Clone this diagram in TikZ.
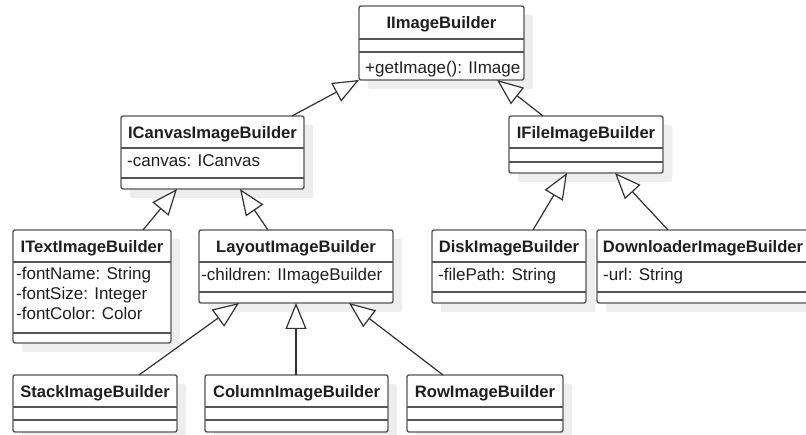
\documentclass[tikz,border=0pt]{standalone}
\usepackage{fontspec}
\setmainfont{Liberation Sans}
\usetikzlibrary{arrows.meta}
\definecolor{boxc}{RGB}{85,85,85}
\definecolor{linec}{RGB}{50,50,50}
\definecolor{shadc}{RGB}{238,238,238}
\tikzset{
  classbox/.style={draw=boxc, line width=1.4pt, rounded corners=2pt, fill=white, inner sep=0pt, outer sep=0pt, anchor=north west},
  sepline/.style={draw=boxc, line width=1.4pt},
  shadowbox/.style={fill=shadc, rounded corners=2pt},
  titletext/.style={font=\fontsize{16.6}{20}\selectfont\bfseries, anchor=base, inner sep=0pt, text=black!88},
  membertext/.style={font=\fontsize{17}{20}\selectfont, anchor=base west, inner sep=0pt, text=black!88},
  inherit/.style={draw=linec, line width=1.2pt, -{Triangle[length=26pt,width=21pt,fill=white,line width=1.2pt]}},
}
% #1 name, #2 x1, #3 x2, #4 top, #5 sep1, #6 sep2, #7 bottom, #8 title
\newcommand{\umlclass}[8]{%
  \fill[shadowbox] (#2+9,#4+9) rectangle (#3+9,#7+9);
  \node[classbox, minimum width={#3pt-#2pt}, minimum height={#7pt-#4pt}] (#1) at (#2,#4) {};
  \draw[sepline] (#2,#5) -- (#3,#5);
  \draw[sepline] (#2,#6) -- (#3,#6);
  \node[titletext] (#1-t) at ({(#2+#3)/2},#4+23) {#8};
}
\begin{document}
\begin{tikzpicture}[x=1pt,y=-1pt]
  \fill[white] (0,0) rectangle (806,435);
  \useasboundingbox (0,0) rectangle (806,435);

  \umlclass{iimg}{359}{524}{6}{39}{52}{80}{IImageBuilder}
  \node[membertext] (iimg-m) at (365,74) {+getImage(): IImage};

  \umlclass{ican}{121}{304}{116}{148}{178}{189}{ICanvasImageBuilder}
  \node[membertext] (ican-a) at (127,167) {-canvas: ICanvas};

  \umlclass{ifile}{509}{663}{116}{148}{162}{173}{IFileImageBuilder}

  \umlclass{itext}{13}{171}{230}{262}{333}{343}{ITextImageBuilder}
  \node[membertext] (itext-a1) at (16,280) {-fontName: String};
  \node[membertext] (itext-a2) at (16,300) {-fontSize: Integer};
  \node[membertext] (itext-a3) at (16,320) {-fontColor: Color};

  \umlclass{layout}{199}{393}{230}{262}{292}{303}{LayoutImageBuilder}
  \node[membertext] (layout-a) at (201,281) {-children: IImageBuilder};

  \umlclass{disk}{432}{586}{230}{262}{292}{303}{DiskImageBuilder}
  \node[membertext] (disk-a) at (438,281) {-filePath: String};

  \umlclass{down}{597}{809}{230}{262}{292}{303}{DownloaderImageBuilder}
  \node[membertext] (down-a) at (603,281) {-url: String};

  \umlclass{stack}{13}{177}{375}{407}{420}{432}{StackImageBuilder}
  \umlclass{column}{205}{388}{375}{407}{420}{432}{ColumnImageBuilder}
  \umlclass{row}{407}{563}{375}{407}{420}{432}{RowImageBuilder}

  \draw[inherit] ([xshift=171pt]ican.north west) -- (iimg.south west);
  \draw[inherit] ([xshift=34pt]ifile.north west) -- ([xshift=138pt]iimg.south west);
  \draw[inherit] ([xshift=130pt]itext.north west) -- ([xshift=56pt]ican.south west);
  \draw[inherit] ([xshift=69pt]layout.north west) -- ([xshift=119pt]ican.south west);
  \draw[inherit] ([xshift=101pt]disk.north west) -- ([xshift=58pt]ifile.south west);
  \draw[inherit] ([xshift=71pt]down.north west) -- ([xshift=106pt]ifile.south west);
  \draw[inherit] ([xshift=126pt]stack.north west) -- ([xshift=40pt]layout.south west);
  \draw[inherit] ([xshift=91pt]column.north west) -- ([xshift=97pt]layout.south west);
  \draw[inherit] ([xshift=36pt]row.north west) -- ([xshift=150pt]layout.south west);
\end{tikzpicture}
\end{document}
